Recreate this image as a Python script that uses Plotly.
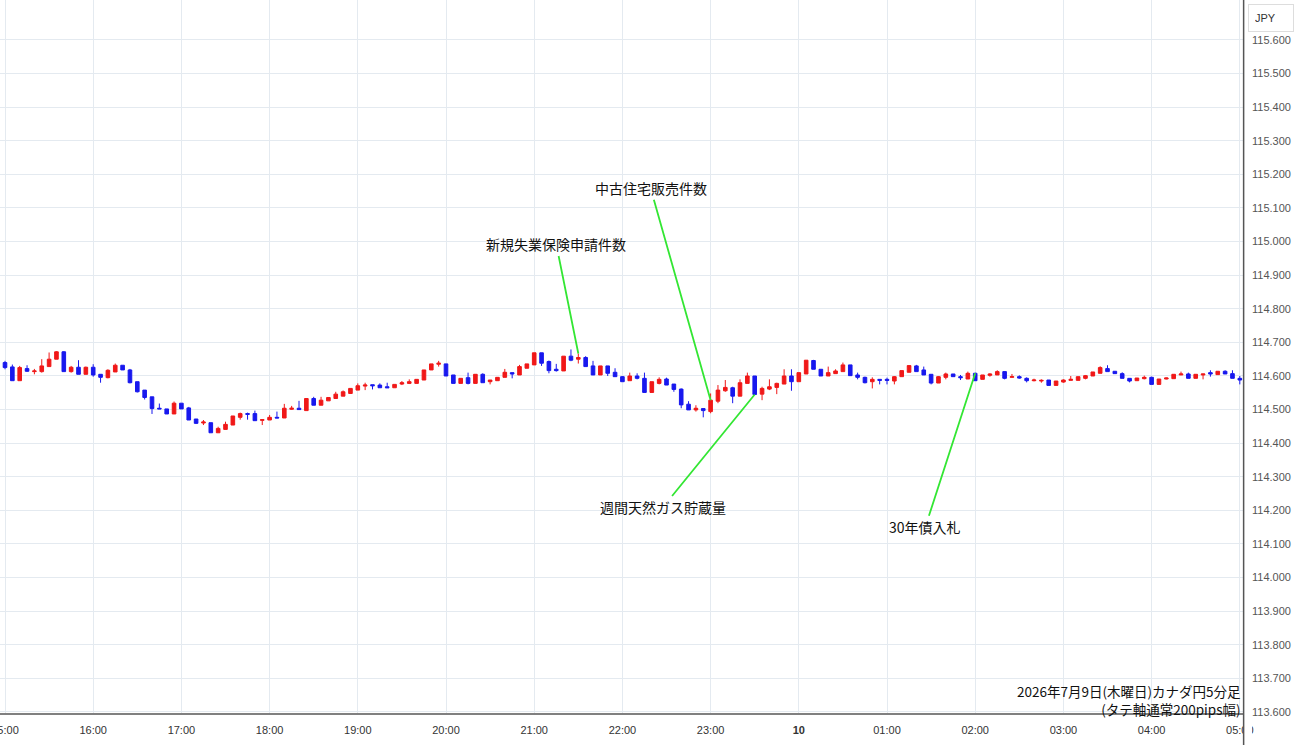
import plotly.graph_objects as go
import pandas as pd

# ---- data (CAD/JPY 5-minute candles, 2026-07-09 15:00 -> 2026-07-10 05:00) ----
start_time = "2026-07-09 15:00"
n_candles = 169

opens = [
    114.640, 114.627, 114.586, 114.622, 114.613, 114.613, 114.628, 114.650, 114.672, 114.613,
    114.626, 114.605, 114.626, 114.605, 114.595, 114.612, 114.632, 114.618, 114.583, 114.558,
    114.538, 114.504, 114.502, 114.487, 114.519, 114.505, 114.472, 114.460, 114.461, 114.431,
    114.441, 114.454, 114.477, 114.488, 114.488, 114.468, 114.469, 114.477, 114.475, 114.501,
    114.504, 114.497, 114.533, 114.513, 114.526, 114.533, 114.540, 114.548, 114.558, 114.570,
    114.574, 114.573, 114.568, 114.565, 114.576, 114.578, 114.578, 114.588, 114.618, 114.635,
    114.636, 114.603, 114.578, 114.595, 114.578, 114.605, 114.583, 114.586, 114.596, 114.610,
    114.603, 114.623, 114.633, 114.669, 114.643, 114.620, 114.615, 114.659, 114.650, 114.655,
    114.630, 114.603, 114.630, 114.611, 114.598, 114.586, 114.600, 114.593, 114.551, 114.578,
    114.591, 114.576, 114.561, 114.516, 114.499, 114.503, 114.494, 114.525, 114.556, 114.565,
    114.540, 114.578, 114.600, 114.546, 114.561, 114.566, 114.576, 114.600, 114.583, 114.606,
    114.646, 114.620, 114.600, 114.607, 114.613, 114.633, 114.603, 114.596, 114.583, 114.590,
    114.590, 114.585, 114.598, 114.611, 114.630, 114.618, 114.605, 114.579, 114.596, 114.606,
    114.598, 114.591, 114.608, 114.590, 114.602, 114.603, 114.613, 114.596, 114.598, 114.593,
    114.586, 114.585, 114.588, 114.572, 114.582, 114.587, 114.587, 114.593, 114.600, 114.608,
    114.622, 114.614, 114.607, 114.593, 114.586, 114.592, 114.596, 114.575, 114.591, 114.592,
    114.603, 114.606, 114.593, 114.603, 114.610, 114.604, 114.614, 114.607, 114.593,
]
highs = [
    114.645, 114.634, 114.630, 114.632, 114.621, 114.650, 114.670, 114.674, 114.674, 114.630,
    114.647, 114.628, 114.635, 114.605, 114.620, 114.637, 114.632, 114.621, 114.583, 114.558,
    114.538, 114.518, 114.502, 114.524, 114.519, 114.508, 114.472, 114.469, 114.461, 114.449,
    114.464, 114.481, 114.491, 114.491, 114.497, 114.470, 114.484, 114.494, 114.517, 114.511,
    114.526, 114.533, 114.538, 114.538, 114.536, 114.553, 114.557, 114.563, 114.578, 114.580,
    114.574, 114.578, 114.580, 114.575, 114.585, 114.590, 114.590, 114.618, 114.636, 114.645,
    114.636, 114.603, 114.593, 114.610, 114.605, 114.608, 114.588, 114.596, 114.621, 114.610,
    114.633, 114.636, 114.669, 114.669, 114.646, 114.636, 114.659, 114.679, 114.667, 114.659,
    114.645, 114.630, 114.630, 114.623, 114.600, 114.610, 114.608, 114.610, 114.583, 114.596,
    114.595, 114.576, 114.563, 114.525, 114.513, 114.503, 114.548, 114.573, 114.588, 114.568,
    114.590, 114.610, 114.600, 114.568, 114.590, 114.580, 114.620, 114.620, 114.610, 114.647,
    114.648, 114.620, 114.628, 114.620, 114.640, 114.633, 114.610, 114.598, 114.596, 114.590,
    114.595, 114.600, 114.616, 114.631, 114.633, 114.628, 114.605, 114.600, 114.610, 114.606,
    114.603, 114.613, 114.610, 114.603, 114.608, 114.617, 114.613, 114.606, 114.602, 114.596,
    114.592, 114.590, 114.588, 114.585, 114.590, 114.600, 114.598, 114.603, 114.612, 114.629,
    114.632, 114.614, 114.611, 114.593, 114.594, 114.601, 114.598, 114.591, 114.595, 114.605,
    114.613, 114.610, 114.605, 114.606, 114.617, 114.614, 114.617, 114.617, 114.600,
]
lows = [
    114.620, 114.586, 114.586, 114.612, 114.605, 114.610, 114.628, 114.650, 114.612, 114.610,
    114.605, 114.605, 114.598, 114.580, 114.593, 114.612, 114.618, 114.578, 114.551, 114.530,
    114.487, 114.502, 114.487, 114.487, 114.502, 114.469, 114.457, 114.454, 114.431, 114.431,
    114.441, 114.454, 114.470, 114.470, 114.467, 114.454, 114.469, 114.475, 114.475, 114.499,
    114.500, 114.497, 114.513, 114.513, 114.526, 114.533, 114.540, 114.548, 114.558, 114.558,
    114.560, 114.565, 114.565, 114.565, 114.573, 114.576, 114.578, 114.588, 114.618, 114.628,
    114.600, 114.578, 114.578, 114.575, 114.578, 114.580, 114.575, 114.586, 114.596, 114.593,
    114.603, 114.623, 114.633, 114.630, 114.608, 114.613, 114.615, 114.644, 114.637, 114.628,
    114.603, 114.603, 114.600, 114.598, 114.583, 114.586, 114.590, 114.551, 114.551, 114.575,
    114.573, 114.553, 114.504, 114.499, 114.494, 114.477, 114.489, 114.519, 114.553, 114.519,
    114.540, 114.578, 114.545, 114.528, 114.558, 114.546, 114.576, 114.556, 114.583, 114.606,
    114.620, 114.600, 114.600, 114.607, 114.613, 114.601, 114.590, 114.578, 114.563, 114.575,
    114.575, 114.575, 114.598, 114.611, 114.613, 114.603, 114.575, 114.579, 114.590, 114.598,
    114.588, 114.591, 114.586, 114.590, 114.598, 114.603, 114.590, 114.596, 114.592, 114.581,
    114.584, 114.580, 114.572, 114.572, 114.580, 114.587, 114.587, 114.590, 114.600, 114.608,
    114.613, 114.607, 114.593, 114.581, 114.586, 114.590, 114.575, 114.575, 114.590, 114.592,
    114.603, 114.593, 114.593, 114.590, 114.598, 114.604, 114.606, 114.593, 114.575,
]
closes = [
    114.625, 114.586, 114.625, 114.614, 114.615, 114.630, 114.650, 114.672, 114.613, 114.626,
    114.605, 114.626, 114.603, 114.596, 114.617, 114.632, 114.618, 114.580, 114.553, 114.536,
    114.503, 114.502, 114.487, 114.519, 114.502, 114.469, 114.459, 114.463, 114.431, 114.444,
    114.456, 114.481, 114.488, 114.486, 114.467, 114.470, 114.477, 114.475, 114.504, 114.504,
    114.500, 114.533, 114.513, 114.528, 114.536, 114.546, 114.553, 114.563, 114.571, 114.573,
    114.571, 114.565, 114.565, 114.575, 114.580, 114.583, 114.590, 114.618, 114.636, 114.638,
    114.600, 114.578, 114.593, 114.578, 114.605, 114.580, 114.588, 114.596, 114.611, 114.606,
    114.628, 114.636, 114.669, 114.638, 114.616, 114.616, 114.659, 114.647, 114.655, 114.628,
    114.603, 114.630, 114.608, 114.598, 114.583, 114.600, 114.593, 114.551, 114.583, 114.590,
    114.573, 114.560, 114.514, 114.499, 114.504, 114.497, 114.528, 114.558, 114.566, 114.540,
    114.580, 114.600, 114.545, 114.563, 114.568, 114.578, 114.600, 114.583, 114.610, 114.647,
    114.620, 114.600, 114.610, 114.615, 114.633, 114.601, 114.596, 114.580, 114.590, 114.587,
    114.587, 114.598, 114.616, 114.631, 114.613, 114.603, 114.579, 114.598, 114.606, 114.598,
    114.595, 114.608, 114.586, 114.603, 114.606, 114.613, 114.593, 114.598, 114.594, 114.586,
    114.588, 114.587, 114.572, 114.585, 114.588, 114.590, 114.598, 114.601, 114.612, 114.625,
    114.613, 114.607, 114.593, 114.585, 114.594, 114.596, 114.575, 114.591, 114.594, 114.605,
    114.606, 114.593, 114.605, 114.606, 114.606, 114.614, 114.606, 114.593, 114.588,
]

# economic events: label, candle index, which price the pointer touches
event_labels = ["新規失業保険申請件数", "中古住宅販売件数", "週間天然ガス貯蔵量", "30年債入札"]
event_candles = [78, 96, 102, 132]
event_fields = ["high", "close", "close", "open"]
event_offsets = [(-22, -109), (-60, -212), (-92, 113), (-50, 154)]  # label offset in px

x_tickvals = [
    "2026-07-09 15:00", "2026-07-09 16:00", "2026-07-09 17:00", "2026-07-09 18:00",
    "2026-07-09 19:00", "2026-07-09 20:00", "2026-07-09 21:00", "2026-07-09 22:00",
    "2026-07-09 23:00", "2026-07-10 00:00", "2026-07-10 01:00", "2026-07-10 02:00",
    "2026-07-10 03:00", "2026-07-10 04:00", "2026-07-10 05:00",
]
x_ticktext = ["15:00", "16:00", "17:00", "18:00", "19:00", "20:00", "21:00", "22:00",
              "23:00", "<b>10</b>", "01:00", "02:00", "03:00", "04:00", "05:00"]
y_tickvals = [113.6, 113.7, 113.8, 113.9, 114.0, 114.1, 114.2, 114.3, 114.4, 114.5,
              114.6, 114.7, 114.8, 114.9, 115.0, 115.1, 115.2, 115.3, 115.4, 115.5, 115.6]
y_ticktext = ["113.600", "113.700", "113.800", "113.900", "114.000", "114.100", "114.200",
              "114.300", "114.400", "114.500", "114.600", "114.700", "114.800", "114.900",
              "115.000", "115.100", "115.200", "115.300", "115.400", "115.500", "115.600"]

title_lines = ["2026年7月9日(木曜日)カナダ円5分足", "(タテ軸通常200pips幅)"]

# ---- figure ----
times = pd.date_range(start_time, periods=n_candles, freq="5min")

RED = "#f01818"
BLUE = "#1818ee"
GRID = "#e4eaf0"
JP_FONT = "Noto Sans CJK JP, Noto Sans, sans-serif"

fig = go.Figure()
fig.add_trace(go.Candlestick(
    x=times, open=opens, high=highs, low=lows, close=closes,
    increasing=dict(line=dict(color=RED, width=1), fillcolor=RED),
    decreasing=dict(line=dict(color=BLUE, width=1), fillcolor=BLUE),
    whiskerwidth=0, showlegend=False, hoverinfo="skip",
))

field_map = {"open": opens, "high": highs, "low": lows, "close": closes}
annotations = []
for lab, idx, fld, (ax, ay) in zip(event_labels, event_candles, event_fields, event_offsets):
    annotations.append(dict(
        x=times[idx], y=field_map[fld][idx], xref="x", yref="y",
        text=lab, showarrow=True, arrowhead=0, arrowwidth=1.8, arrowcolor="#33e633",
        ax=ax, ay=ay, font=dict(family=JP_FONT, size=14, color="#111"),
    ))

annotations.append(dict(
    x=1, y=(713 - 700) / 713, xref="paper", yref="paper", xanchor="right", yanchor="middle",
    text="<br>".join(title_lines), showarrow=False, align="right",
    font=dict(family=JP_FONT, size=13.5, color="#111"),
))
annotations.append(dict(
    x=1248 / 1243, y=1 - 4 / 713, xref="paper", yref="paper", xanchor="left", yanchor="top",
    text="JPY", showarrow=False, align="left", width=32, height=14,
    bordercolor="#dddddd", borderwidth=1, borderpad=6,
    font=dict(family="Liberation Sans, Arial, sans-serif", size=11, color="#333"),
))

t0 = times[0]
t1 = times[-1]
x_range = [t0 - pd.Timedelta(seconds=204), t1 + pd.Timedelta(seconds=130)]

fig.update_layout(
    width=1300, height=745,
    margin=dict(l=0, r=57, t=0, b=32, autoexpand=False),
    paper_bgcolor="white", plot_bgcolor="white",
    annotations=annotations,
    xaxis=dict(
        type="date", range=x_range, rangeslider=dict(visible=False),
        tickvals=x_tickvals, ticktext=x_ticktext,
        showgrid=True, gridcolor=GRID, gridwidth=1,
        showline=True, linecolor="#808080", linewidth=2, ticks="",
        ticklabelstandoff=6, ticklabeloverflow="allow", automargin=False,
        tickfont=dict(family="Liberation Sans Narrow, Arial Narrow, Liberation Sans, sans-serif",
                      size=11, color="#333"),
        zeroline=False, fixedrange=True,
    ),
    yaxis=dict(
        side="right", range=[113.597, 115.719],
        tickvals=y_tickvals, ticktext=y_ticktext,
        showgrid=True, gridcolor=GRID, gridwidth=1,
        showline=False, ticks="", ticklabelstandoff=8, automargin=False,
        tickfont=dict(family="Liberation Sans, Arial, sans-serif", size=11, color="#555"),
        zeroline=False, fixedrange=True,
    ),
    shapes=[
        dict(type="rect", xref="paper", yref="paper", x0=1.0005, x1=1252 / 1243,
             y0=-0.06, y1=-0.003,
             fillcolor="white", line=dict(width=0), layer="above"),
        dict(type="line", xref="paper", yref="paper", x0=1.0005, x1=1.0005, y0=-0.06, y1=1,
             line=dict(color="#555555", width=1.5), layer="above"),
    ],
)

fig.write_html("out.html")
